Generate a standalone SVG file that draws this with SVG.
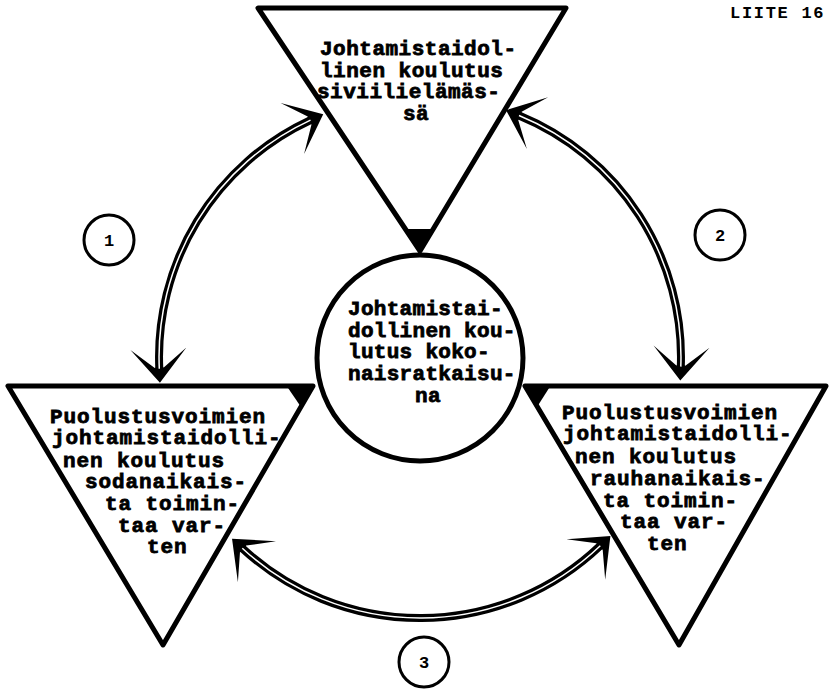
<svg xmlns="http://www.w3.org/2000/svg" width="831" height="689" viewBox="0 0 831 689">
<style>
.tri{fill:#fff;stroke:#000;stroke-width:5;stroke-linejoin:round}
.corner{fill:#000}
.hub{fill:#fff;stroke:#000;stroke-width:5}
.num{fill:#fff;stroke:#000;stroke-width:3}
.t{font-family:"Liberation Mono","DejaVu Sans Mono",monospace;font-weight:bold;font-size:21px;fill:#000;stroke:#000;stroke-width:0.8}
.n{font-family:"Liberation Mono","DejaVu Sans Mono",monospace;font-weight:bold;font-size:17px;fill:#000;text-anchor:middle}
.arc{fill:none;stroke:#000;stroke-width:8;marker-start:url(#head);marker-end:url(#head)}
.arcw{fill:none;stroke:#fff;stroke-width:1.5}
</style>
<defs>
<marker id="head" viewBox="-40 -32 45 64" markerWidth="45" markerHeight="64" refX="-14" refY="0" orient="auto-start-reverse" markerUnits="userSpaceOnUse" overflow="visible">
<path d="M0,0 L-34,-28 L-15,-4.5 L-17,0 L-15,4.5 L-34,28 Z" fill="#000"/>
</marker>
</defs>
<text x="730" y="18" style="font-family:'Liberation Mono',monospace;font-weight:bold;font-size:17px;letter-spacing:1.7px">LIITE 16</text>
<g id="node-top">
<polygon class="tri" points="258,8 566,8 420,251"/>
<polygon class="corner" points="404,229 435,229 420,253"/>
<text class="t" style="letter-spacing:0.5px"><tspan x="320" y="55">Johtamistaidol-</tspan><tspan x="320" y="77">linen koulutus</tspan><tspan x="317" y="98">siviilielämäs-</tspan><tspan x="403" y="120">sä</tspan></text>
</g>
<g id="node-left">
<polygon class="tri" points="8,386 313,386 163,645"/>
<polygon class="corner" points="314,385 286,385 301,407"/>
<text class="t" style="letter-spacing:0.9px"><tspan x="50" y="423">Puolustusvoimien</tspan><tspan x="52" y="444">johtamistaidolli-</tspan><tspan x="63" y="467">nen koulutus</tspan><tspan x="85" y="488">sodanaikais-</tspan><tspan x="105" y="510">ta toimin-</tspan><tspan x="118" y="532">taa var-</tspan><tspan x="147" y="553">ten</tspan></text>
</g>
<g id="node-right">
<polygon class="tri" points="525,386 826,386 679,645"/>
<polygon class="corner" points="524,385 551,385 537,407"/>
<text class="t" style="letter-spacing:0.9px"><tspan x="562" y="419">Puolustusvoimien</tspan><tspan x="563" y="440">johtamistaidolli-</tspan><tspan x="575" y="463">nen koulutus</tspan><tspan x="590" y="485">rauhanaikais-</tspan><tspan x="603" y="507">ta toimin-</tspan><tspan x="620" y="528">taa var-</tspan><tspan x="647" y="550">ten</tspan></text>
</g>
<g id="node-center">
<circle class="hub" cx="420" cy="358" r="103"/>
<text class="t" style="letter-spacing:0.3px"><tspan x="348" y="315">Johtamistai-</tspan><tspan x="348" y="337">dollinen kou-</tspan><tspan x="348" y="358">lutus koko-</tspan><tspan x="348" y="380">naisratkaisu-</tspan><tspan x="415" y="402">na</tspan></text>
</g>
<g id="connectors">
<path class="arc" d="M310.5,120.1 A261,261 0 0,0 159.3,368.8"/>
<path class="arcw" d="M310.5,120.1 A261,261 0 0,0 159.3,368.8"/>
<path class="arc" d="M519,115.5 A261,261 0 0,1 680.8,366.6"/>
<path class="arcw" d="M519,115.5 A261,261 0 0,1 680.8,366.6"/>
<path class="arc" d="M242.3,548.2 A261,261 0 0,0 600.3,545.7"/>
<path class="arcw" d="M242.3,548.2 A261,261 0 0,0 600.3,545.7"/>
</g>
<g id="label-1">
<circle class="num" cx="109" cy="240" r="25"/>
<text class="n" x="109" y="246">1</text>
</g>
<g id="label-2">
<circle class="num" cx="720" cy="235" r="25"/>
<text class="n" x="720" y="241">2</text>
</g>
<g id="label-3">
<circle class="num" cx="424" cy="662" r="25"/>
<text class="n" x="424" y="668">3</text>
</g>
</svg>
